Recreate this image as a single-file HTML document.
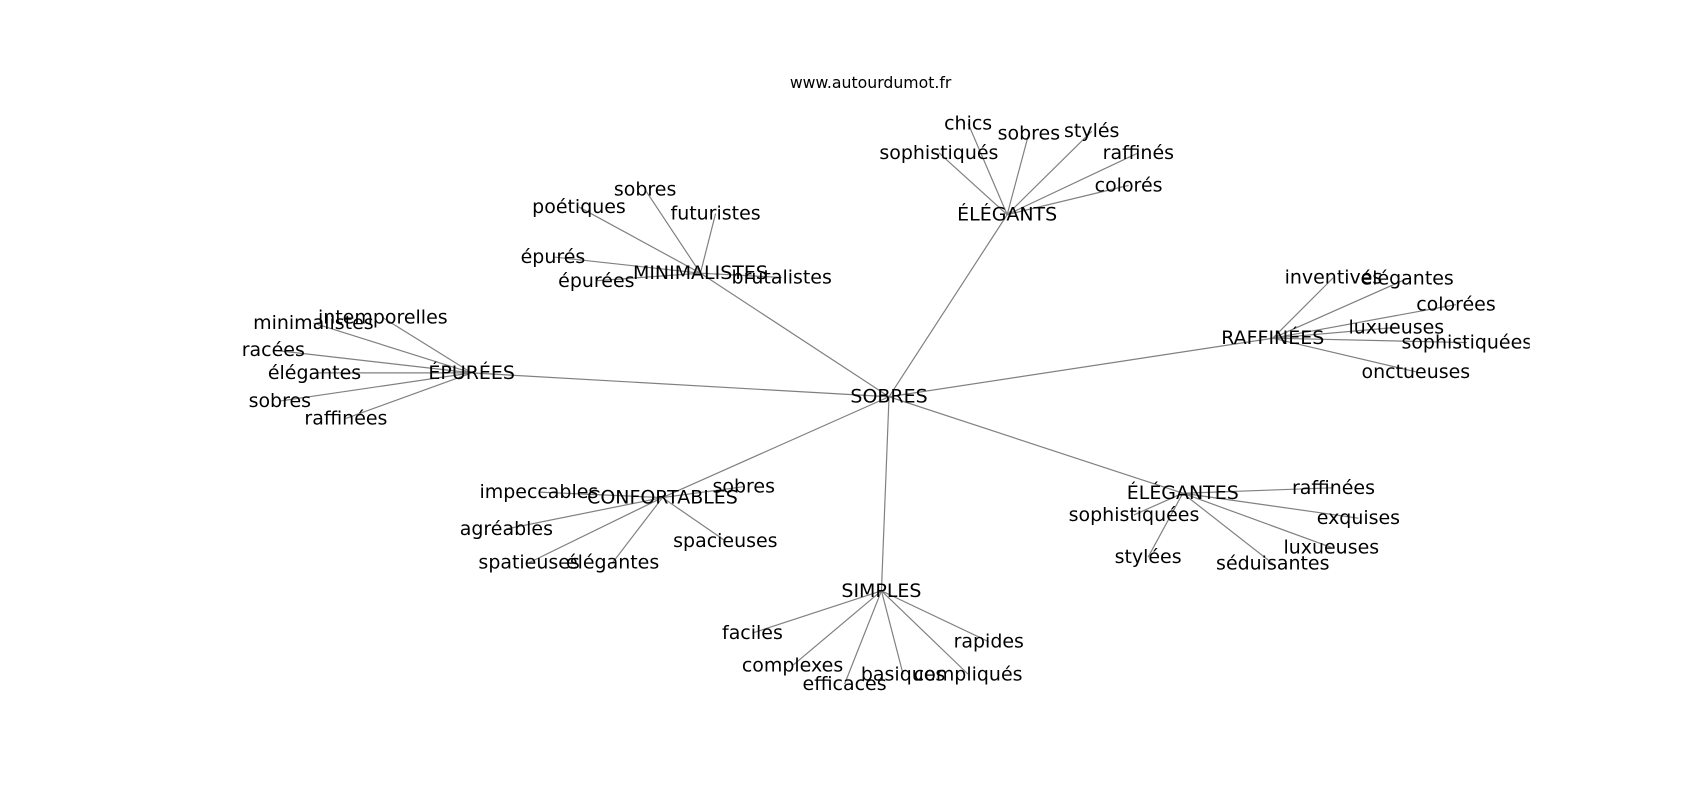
<!DOCTYPE html>
<html><head><meta charset="utf-8"><style>
html,body{margin:0;padding:0;background:#fff;width:1700px;height:800px;overflow:hidden}
svg{display:block}
text{font-family:"DejaVu Sans","Liberation Sans",sans-serif;font-size:17.5px;fill:#000;text-anchor:middle;dominant-baseline:central}
line{stroke:#808080;stroke-width:1.1}
</style></head><body>
<svg width="1700" height="800" viewBox="0 0 1568 738" xmlns="http://www.w3.org/2000/svg">
<defs><clipPath id="c"><rect x="0" y="0" width="1411" height="738"/></clipPath></defs>
<text x="803" y="76" style="font-size:14.5px">www.autourdumot.fr</text>
<g id="g"></g>
</svg>
<script>
var hubs=[
["SOBRES",820,366,[]],
["ÉLÉGANTS",929,198,[["chics",893,114],["sobres",949,123],["stylés",1007,121],["sophistiqués",866,141],["raffinés",1050,141],["colorés",1041,171]]],
["MINIMALISTES",646,252,[["sobres",595,175],["poétiques",534,191],["futuristes",660,197],["épurés",510,237],["épurées",550,259],["brutalistes",721,256]]],
["ÉPURÉES",435,344,[["intemporelles",353,293],["minimalistes",289,298],["racées",252,323],["élégantes",290,344],["sobres",258,370],["raffinées",319,386]]],
["RAFFINÉES",1174,312,[["inventives",1230,256],["élégantes",1298,257],["colorées",1343,281],["luxueuses",1288,302],["sophistiquées",1353,316],["onctueuses",1306,343]]],
["ÉLÉGANTES",1091,455,[["raffinées",1230,450],["sophistiquées",1046,475],["exquises",1253,478],["luxueuses",1228,505],["stylées",1059,514],["séduisantes",1174,520]]],
["SIMPLES",813,545,[["faciles",694,584],["complexes",731,614],["efficaces",779,631],["basiques",833,622],["compliqués",893,622],["rapides",912,592]]],
["CONFORTABLES",611,459,[["impeccables",497,454],["sobres",686,449],["agréables",467,488],["spacieuses",669,499],["spatieuses",488,519],["élégantes",565,519]]]
];
var NS="http://www.w3.org/2000/svg",g=document.getElementById("g");
var L=document.createElementNS(NS,"g"),T=document.createElementNS(NS,"g");
T.setAttribute("clip-path","url(#c)");g.appendChild(L);g.appendChild(T);
function ln(a,b,c,d){var e=document.createElementNS(NS,"line");e.setAttribute("x1",a);e.setAttribute("y1",b);e.setAttribute("x2",c);e.setAttribute("y2",d);L.appendChild(e);}
function tx(s,x,y){var e=document.createElementNS(NS,"text");e.setAttribute("x",x);e.setAttribute("y",y);e.textContent=s;T.appendChild(e);}
var c=hubs[0];
hubs.forEach(function(h,i){
 if(i>0)ln(c[1],c[2],h[1],h[2]);
 h[3].forEach(function(l){ln(h[1],h[2],l[1],l[2]);});
});
hubs.forEach(function(h){tx(h[0],h[1],h[2]);h[3].forEach(function(l){tx(l[0],l[1],l[2]);});});
</script>
</body></html>
